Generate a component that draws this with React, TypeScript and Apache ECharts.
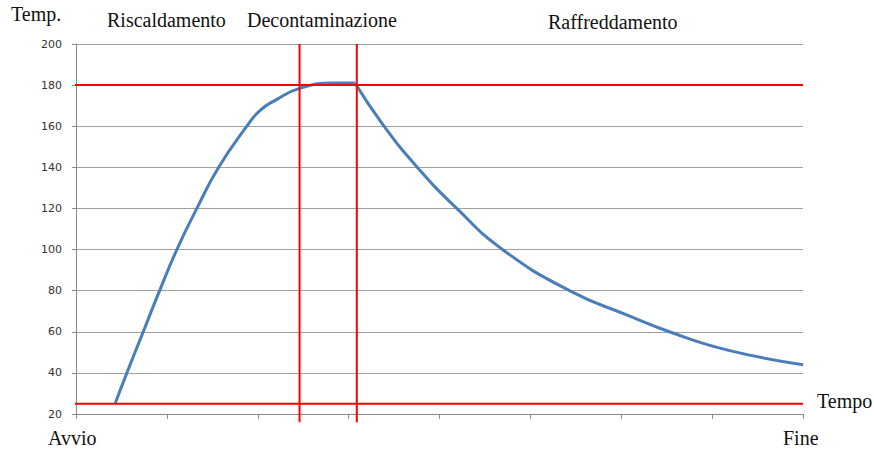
import React, { useEffect, useRef } from "react";
import * as echarts from "echarts";

const yTicks = [20, 40, 60, 80, 100, 120, 140, 160, 180, 200];
const riseCurve: [number, number][] = [
  [4.3, 25], [5.6, 40], [7.4, 60], [9.2, 80], [11.1, 100], [13.3, 120], [15.7, 140],
  [18.8, 160], [20.2, 167.5], [22.0, 172.8], [24.6, 178.4], [28.3, 181], [30.7, 181],
];
const coolCurve: [number, number][] = [
  [30.7, 181], [33.8, 160.6], [37.5, 140.3], [41.9, 120], [47, 99.8], [54.3, 80],
  [60.6, 68.2], [65.3, 60], [71.6, 51.2], [80, 44],
];
const startTemp = 25;
const targetTemp = 180;
const phaseBounds = [24.6, 30.9];
const phaseLabels = ["Riscaldamento", "Decontaminazione", "Raffreddamento"];
const axisTitles = { y: "Temp.", x: "Tempo", start: "Avvio", end: "Fine" };

export default function App() {
  const ref = useRef<HTMLDivElement>(null);
  useEffect(() => {
    document.body.style.margin = "0";
    const chart = echarts.init(ref.current!, null, { renderer: "svg" });
    const red = "#ff0000";
    const font = "20px 'Liberation Serif', serif";
    const redLine = (data: [number, number][]) => ({
      type: "line",
      data,
      clip: false,
      symbol: "none",
      silent: true,
      lineStyle: { color: red, width: 2 },
      z: 3,
    });
    const blue = (data: [number, number][]) => ({
      type: "line",
      data,
      smooth: 0.5,
      symbol: "none",
      clip: false,
      lineStyle: { color: "#4a7ebb", width: 3 },
      z: 2,
    });
    const label = (text: string, left: number, top: number) => ({
      type: "text",
      left,
      top,
      style: { text, font, fill: "#111" },
    });
    chart.setOption({
      animation: false,
      backgroundColor: "#ffffff",
      grid: { left: 76, right: 71, top: 44, bottom: 38 },
      xAxis: {
        type: "value",
        min: 0,
        max: 80,
        interval: 10,
        axisLine: { show: true, onZero: false, lineStyle: { color: "#8a8a8a", width: 1 } },
        axisTick: { show: true, length: 5, lineStyle: { color: "#8a8a8a" } },
        axisLabel: { show: false },
        splitLine: { show: false },
      },
      yAxis: {
        type: "value",
        min: yTicks[0],
        max: yTicks[yTicks.length - 1],
        interval: 20,
        axisLine: { show: true, lineStyle: { color: "#8a8a8a", width: 1 } },
        axisTick: { show: true, length: 4, lineStyle: { color: "#8a8a8a" } },
        axisLabel: {
          margin: 14,
          fontFamily: "'DejaVu Sans', sans-serif",
          fontSize: 11,
          color: "#333333",
        },
        splitLine: { show: true, lineStyle: { color: "#a0a0a0", width: 1 } },
      },
      series: [
        blue(riseCurve),
        blue(coolCurve),
        redLine([[-0.66, startTemp], [80, startTemp]]),
        redLine([[-0.2, targetTemp], [80, targetTemp]]),
        redLine([[phaseBounds[0], 200], [phaseBounds[0], 16]]),
        redLine([[phaseBounds[1], 200], [phaseBounds[1], 16]]),
      ],
      graphic: [
        label(axisTitles.y, 11, 4),
        label(phaseLabels[0], 107, 10),
        label(phaseLabels[1], 247, 10),
        label(phaseLabels[2], 548, 12),
        label(axisTitles.x, 817, 391),
        label(axisTitles.start, 48, 428),
        label(axisTitles.end, 783, 428),
      ],
    });
    return () => chart.dispose();
  }, []);
  return <div ref={ref} style={{ width: 874, height: 452 }} />;
}
